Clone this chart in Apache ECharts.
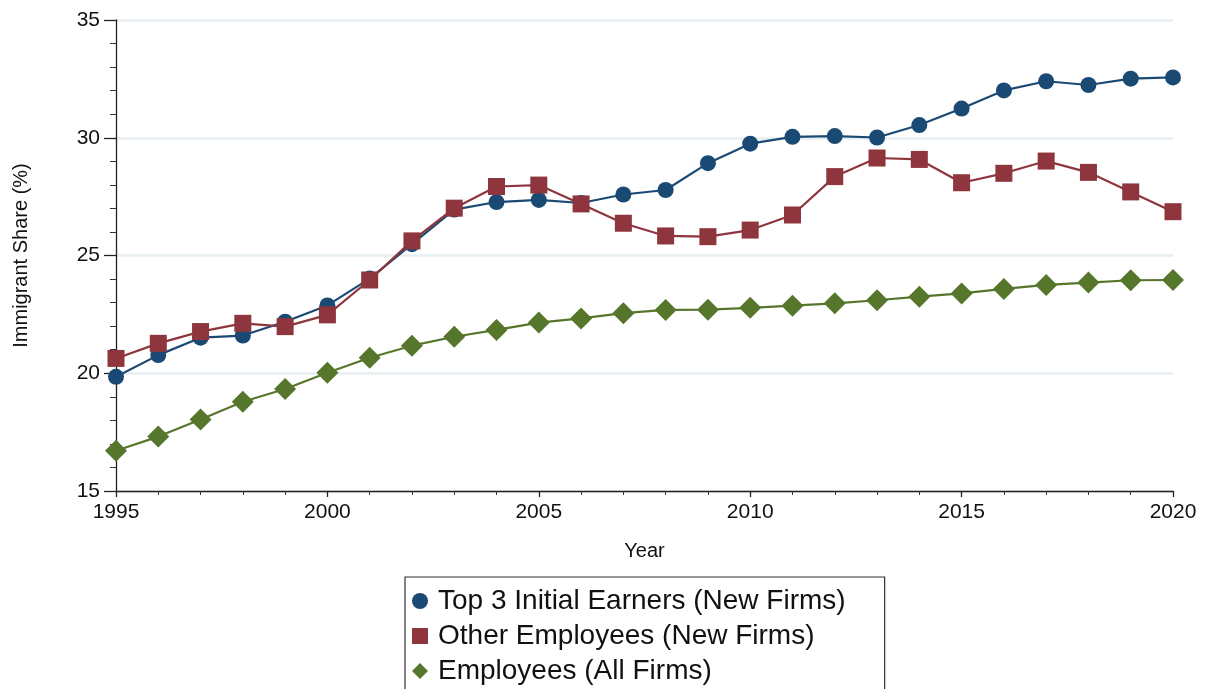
<!DOCTYPE html>
<html>
<head>
<meta charset="utf-8">
<script src="https://cdn.jsdelivr.net/npm/echarts@6/dist/echarts.min.js"></script>
<style>
html,body{margin:0;padding:0;background:#fff;}
#chart{width:1209px;height:689px;}
</style>
</head>
<body>
<div id="chart"></div>
<script>
var years = [1995,1996,1997,1998,1999,2000,2001,2002,2003,2004,2005,2006,2007,2008,2009,2010,2011,2012,2013,2014,2015,2016,2017,2018,2019,2020];
var top3Initial = [19.85,20.77,21.51,21.60,22.19,22.88,24.02,25.48,26.95,27.27,27.36,27.23,27.59,27.78,28.92,29.75,30.04,30.07,30.01,30.54,31.24,32.01,32.40,32.24,32.51,32.56];
var otherEmployees = [20.63,21.27,21.77,22.12,21.98,22.48,23.96,25.62,27.01,27.93,27.99,27.19,26.37,25.83,25.80,26.08,26.72,28.35,29.14,29.08,28.09,28.49,29.01,28.53,27.70,26.86];
var allEmployees = [16.71,17.31,18.04,18.79,19.33,20.02,20.66,21.17,21.55,21.84,22.15,22.33,22.55,22.69,22.70,22.78,22.87,22.97,23.10,23.25,23.39,23.58,23.75,23.85,23.95,23.96];
var seriesNames = ['Top 3 Initial Earners (New Firms)','Other Employees (New Firms)','Employees (All Firms)'];
var yTicks = [15,20,25,30,35];
var xTicks = [1995,2000,2005,2010,2015,2020];

function pairs(vals){ return years.map(function(y,i){ return [y, vals[i]]; }); }

var chart = echarts.init(document.getElementById('chart'), null, {renderer:'canvas'});
var font = 'Liberation Sans, Arial, Helvetica, sans-serif';
chart.setOption({
  animation:false,
  backgroundColor:'#ffffff',
  grid:{left:116, right:36, top:20, bottom:198, containLabel:false},
  xAxis:{
    type:'value', min:xTicks[0], max:xTicks[xTicks.length-1], interval:5,
    name:'Year', nameLocation:'middle', nameGap:50,
    nameTextStyle:{color:'#111', fontSize:20, fontFamily:font},
    axisLine:{show:true, lineStyle:{color:'#222', width:1.3}},
    axisTick:{show:true, length:6, lineStyle:{color:'#222', width:1.3}},
    minorTick:{show:true, splitNumber:5, length:4, lineStyle:{color:'#333', width:1}},
    axisLabel:{color:'#111', fontSize:21, fontFamily:font, margin:11, formatter:function(v){return String(v);}},
    splitLine:{show:false}
  },
  yAxis:{
    type:'value', min:yTicks[0], max:yTicks[yTicks.length-1], interval:5,
    name:'Immigrant Share (%)', nameLocation:'middle', nameGap:85, nameRotate:90,
    nameTextStyle:{color:'#111', fontSize:20, fontFamily:font},
    axisLine:{show:true, lineStyle:{color:'#222', width:1.3}},
    axisTick:{show:true, length:12, lineStyle:{color:'#222', width:1.3}},
    minorTick:{show:true, splitNumber:5, length:6, lineStyle:{color:'#333', width:1}},
    axisLabel:{color:'#111', fontSize:21, fontFamily:font, margin:16},
    splitLine:{show:true, lineStyle:{color:'#e6eef2', width:2.5}}
  },
  legend:{
    orient:'vertical', left:405, top:577, height:150,
    padding:[10,39,30,7],
    borderColor:'#333', borderWidth:1.2,
    itemGap:7, itemWidth:16, itemHeight:16,
    textStyle:{color:'#111', fontSize:28, lineHeight:28, fontFamily:font, padding:[0,0,0,5]},
    data:[
      {name:seriesNames[0], icon:'circle', itemStyle:{color:'#1a4a74'}},
      {name:seriesNames[1], icon:'rect', itemStyle:{color:'#8e353d'}},
      {name:seriesNames[2], icon:'diamond', itemStyle:{color:'#56762c'}}
    ]
  },
  series:[
    {name:seriesNames[0], type:'line', data:pairs(top3Initial), symbol:'circle', symbolSize:16,
     lineStyle:{color:'#1a4a74', width:2.2}, itemStyle:{color:'#1a4a74'}, z:3},
    {name:seriesNames[1], type:'line', data:pairs(otherEmployees), symbol:'rect', symbolSize:17,
     lineStyle:{color:'#8e353d', width:2.2}, itemStyle:{color:'#8e353d'}, z:4},
    {name:seriesNames[2], type:'line', data:pairs(allEmployees), symbol:'diamond', symbolSize:22,
     lineStyle:{color:'#56762c', width:2.2}, itemStyle:{color:'#56762c'}, z:2}
  ]
});
</script>
</body>
</html>
